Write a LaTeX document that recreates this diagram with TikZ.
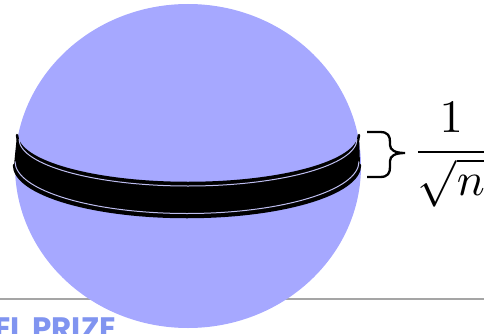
\documentclass[tikz,border=0pt]{standalone}
\usepackage{fontspec}
\newfontfamily\prizefont{Poppins}
\definecolor{spherefill}{RGB}{166,168,255}
\definecolor{prizeblue}{RGB}{128,148,240}
\definecolor{rulegray}{RGB}{165,165,165}
\definecolor{gapline}{RGB}{190,190,240}
\begin{document}
\begin{tikzpicture}[x=1pt, y=1pt,
  bandedge/.style={black, line width=2.5pt, line cap=round},
  bandgap/.style={gapline, line width=1pt}]
  \useasboundingbox (0,0) rectangle (484,333);
  \clip (0,0) rectangle (484,333);
  % rule at the bottom
  \draw[rulegray, line width=1.8pt] (0,34) -- (484,34);
  % sphere
  \fill[spherefill] (188,167) ellipse[x radius=173, y radius=162];
  % logo text, cut by the lower edge
  \node[font=\prizefont\bfseries\fontsize{31}{33}\selectfont, text=prizeblue,
        anchor=base west, inner sep=0pt] (prize) at (-6,-6) {EL PRIZE};
  % band
  \fill[black] (17,198) arc[start angle=180, end angle=360, x radius=171, y radius=48]
    -- (360,168) arc[start angle=0, end angle=-180, x radius=173, y radius=52] -- cycle;
  \draw[bandedge] (17,198) arc[start angle=180, end angle=360, x radius=171, y radius=48];
  \draw[bandedge] (14,168) arc[start angle=180, end angle=360, x radius=173, y radius=52];
  \draw[bandgap] (19,194) arc[start angle=180, end angle=360, x radius=169, y radius=47];
  \draw[bandgap] (15,171.5) arc[start angle=180, end angle=360, x radius=172, y radius=52];
  % brace and width label
  \draw[black, line width=2.3pt]
    (367,201) -- (380,201) .. controls (388,201) and (390,197) .. (390,191)
    -- (390,188) .. controls (390,183) and (395,180) .. (405,180)
    .. controls (395,180) and (390,177) .. (390,172)
    -- (390,166) .. controls (390,160) and (388,156) .. (380,156) -- (367,156);
  \node[scale=4.66, anchor=base west, inner sep=0pt] (width) at (411.4,169.4)
    {$\displaystyle\frac{1}{\sqrt{n}}$};
\end{tikzpicture}
\end{document}
